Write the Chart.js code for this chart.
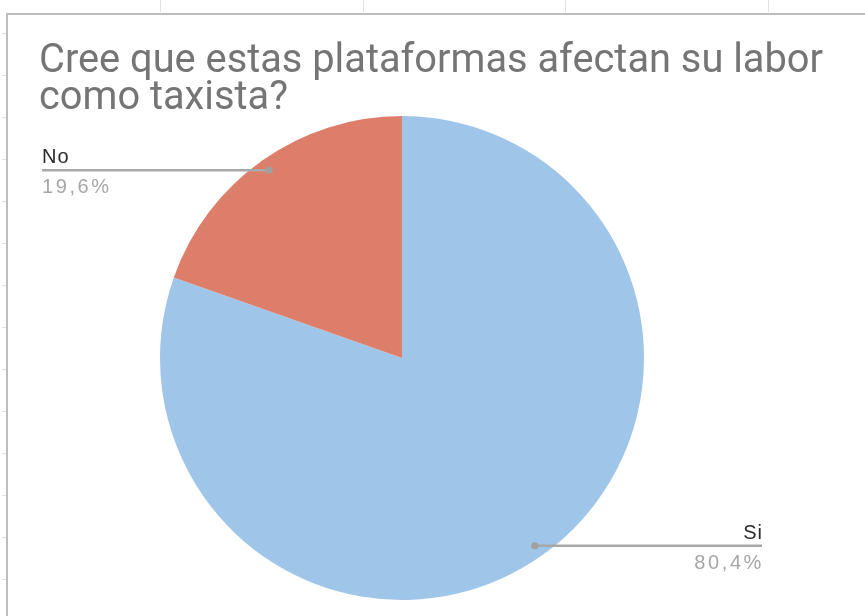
<!DOCTYPE html>
<html>
<head>
<meta charset="utf-8">
<script src="https://cdn.jsdelivr.net/npm/chart.js@4"></script>
<style>
  html, body { margin: 0; padding: 0; background: #fff; }
  canvas { display: block; }
</style>
</head>
<body>
<canvas id="pieChart" width="865" height="616"></canvas>
<script>
const titleLines = ['Cree que estas plataformas afectan su labor', 'como taxista?'];
const labels = ['Si', 'No'];
const values = [80.4, 19.6];
const colors = ['#9fc5e8', '#dd7e6b'];

// spreadsheet cells behind the chart + chart frame + title
const backdrop = {
    id: 'backdrop',
    beforeDraw(chart) {
        const c = chart.ctx;
        c.save();
        c.fillStyle = '#fff';
        c.fillRect(0, 0, chart.width, chart.height);
        c.strokeStyle = '#e2e2e2';
        c.lineWidth = 1;
        [160, 363, 565, 768].forEach(x => {
            c.beginPath(); c.moveTo(x + 0.5, 0); c.lineTo(x + 0.5, 12); c.stroke();
        });
        for (let y = 33; y < chart.height; y += 42) {
            c.beginPath(); c.moveTo(2, y + 0.5); c.lineTo(6, y + 0.5); c.stroke();
        }
        c.strokeStyle = '#bdbdbd';
        c.lineWidth = 2;
        c.beginPath();
        c.moveTo(7, chart.height);
        c.lineTo(7, 14);
        c.lineTo(chart.width, 14);
        c.stroke();

        // title is a bit condensed in the original
        c.fillStyle = '#757575';
        c.font = '41px Roboto';
        c.textBaseline = 'alphabetic';
        c.textAlign = 'left';
        const sx = 784 / c.measureText(titleLines[0]).width;
        [[titleLines[0], 72], [titleLines[1], 109]].forEach(([t, y]) => {
            c.save();
            c.translate(39, y);
            c.scale(sx, 1);
            c.fillText(t, 0, 0);
            c.restore();
        });
        c.restore();
    }
};

// leader lines with label and percentage
const leaders = {
    id: 'leaders',
    afterDatasetsDraw(chart) {
        const c = chart.ctx;
        const meta = chart.getDatasetMeta(0);
        const total = values.reduce((a, b) => a + b, 0);
        c.save();
        meta.data.forEach((arc, i) => {
            const mid = (arc.startAngle + arc.endAngle) / 2;
            const r = arc.outerRadius * 0.95;
            const px = arc.x + Math.cos(mid) * r;
            const py = arc.y + Math.sin(mid) * r;
            const right = Math.cos(mid) > 0;
            const ex = right ? 762 : 42;

            c.strokeStyle = '#a8a8a8';
            c.lineWidth = 2.5;
            c.beginPath(); c.moveTo(px, py); c.lineTo(ex, py); c.stroke();
            c.fillStyle = '#a0a0a0';
            c.beginPath(); c.arc(px, py, 3.5, 0, Math.PI * 2); c.fill();

            c.textAlign = right ? 'right' : 'left';
            c.textBaseline = 'alphabetic';
            c.font = '20px "Liberation Sans"';
            c.fillStyle = '#2a2a2a';
            c.letterSpacing = '1px';
            c.fillText(labels[i], right ? ex + 1 : ex, py - 7);
            c.font = '20px "Liberation Sans"';
            c.fillStyle = '#a6a6a6';
            c.letterSpacing = '2.6px';
            const pct = (values[i] / total * 100).toFixed(1).replace('.', ',') + '%';
            c.fillText(pct, right ? ex + 2 : ex, py + 23);
            c.letterSpacing = '0px';
        });
        c.restore();
    }
};

new Chart(document.getElementById('pieChart'), {
    type: 'pie',
    data: {
        labels: labels,
        datasets: [{
            data: values,
            backgroundColor: colors,
            borderWidth: 0
        }]
    },
    options: {
        responsive: false,
        animation: false,
        layout: { padding: { left: 160, right: 221, top: 116, bottom: 16 } },
        plugins: {
            legend: { display: false },
            tooltip: { enabled: false },
            title: { display: false }
        }
    },
    plugins: [backdrop, leaders]
});
</script>
</body>
</html>
